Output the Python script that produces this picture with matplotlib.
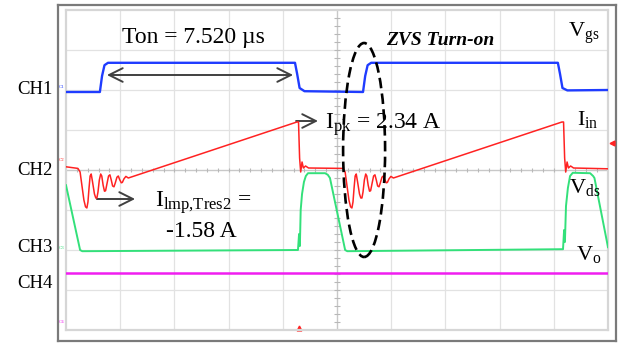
import numpy as np
import matplotlib
matplotlib.use("Agg")
import matplotlib.pyplot as plt
from matplotlib.patches import Ellipse

plt.rcParams['font.family'] = ['Liberation Serif', 'DejaVu Serif']
plt.rcParams['mathtext.fontset'] = 'custom'
plt.rcParams['mathtext.rm'] = 'Liberation Serif'
plt.rcParams['mathtext.it'] = 'Liberation Serif:italic'
plt.rcParams['mathtext.bf'] = 'Liberation Serif:bold'

# scope screen: 10 div x 2 us, 8 div vertical (levels in div, centre = 0)
T_DIV = 2.0
N_XDIV, N_YDIV = 10, 8

# CH1 - gate voltage Vgs
ch1_t = [0, 1.25, 1.33, 1.42, 1.55, 8.45, 8.53, 8.62, 8.80, 10.96, 11.04,
         11.13, 11.26, 18.15, 18.23, 18.32, 18.50, 20]
ch1_v = [1.95, 1.95, 2.35, 2.62, 2.68, 2.68, 2.40, 2.05, 1.97, 1.95, 2.35,
         2.62, 2.68, 2.68, 2.40, 2.05, 1.99, 2.0]

# CH2 - input current Iin
ch2_t = [0, 0.44, 0.52, 0.58, 0.66, 0.72, 0.77, 0.81, 0.85, 0.89, 0.93, 0.98,
         1.05, 1.10, 1.14, 1.18, 1.23, 1.28, 1.32, 1.37, 1.42, 1.46, 1.51,
         1.57, 1.62, 1.67, 1.72, 1.77, 1.82, 1.88, 1.93, 1.98, 2.04, 2.08,
         2.14, 2.21, 2.30,
         8.52, 8.58, 8.62, 8.66, 8.71, 8.76, 8.84, 8.95,
         10.22, 10.30, 10.36, 10.44, 10.50, 10.55, 10.59, 10.63, 10.67, 10.71,
         10.76, 10.83, 10.88, 10.92, 10.96, 11.01, 11.06, 11.10, 11.15, 11.20,
         11.24, 11.29, 11.35, 11.40, 11.45, 11.50, 11.55, 11.60, 11.66, 11.71,
         11.76, 11.82, 11.86, 11.92, 11.99, 12.08,
         18.30, 18.36, 18.40, 18.44, 18.49, 18.54, 18.62, 18.73, 20]
ch2_v = [0.08, 0.04, -0.05, -0.35, -0.75, -0.92, -0.95, -0.80, -0.45, -0.15,
         -0.10, -0.30, -0.60, -0.70, -0.70, -0.55, -0.25, -0.10, -0.15, -0.38,
         -0.53, -0.52, -0.35, -0.15, -0.12, -0.25, -0.40, -0.42, -0.32, -0.18,
         -0.15, -0.24, -0.32, -0.31, -0.22, -0.16, -0.20,
         1.20, 1.20, 0.30, -0.05, 0.20, 0.05, 0.10, 0.05,
         0.04, -0.05, -0.35, -0.75, -0.92, -0.95, -0.80, -0.45, -0.15, -0.10,
         -0.30, -0.60, -0.70, -0.70, -0.55, -0.25, -0.10, -0.15, -0.38, -0.53,
         -0.52, -0.35, -0.15, -0.12, -0.25, -0.40, -0.42, -0.32, -0.18, -0.15,
         -0.24, -0.32, -0.31, -0.22, -0.16, -0.20,
         1.20, 1.20, 0.30, -0.05, 0.20, 0.05, 0.10, 0.05, 0.03]

# CH3 - drain-source voltage Vds
ch3_t = [0, 0.52, 0.60, 8.56, 8.60, 8.63, 8.66, 8.71, 8.78, 8.85, 8.93, 9.56,
         9.66, 9.74, 10.30, 10.38, 18.34, 18.38, 18.41, 18.45, 18.52, 18.60,
         18.70, 19.34, 19.45, 19.50, 20]
ch3_v = [-0.38, -2.00, -2.03, -2.00, -1.60, -1.90, -1.00, -0.60, -0.30, -0.15,
         -0.08, -0.08, -0.12, -0.20, -2.00, -2.03, -1.98, -1.50, -1.80, -0.90,
         -0.45, -0.15, -0.07, -0.08, -0.15, -0.20, -1.93]

# CH4 - output voltage Vo
ch4_t = [0, 20]
ch4_v = [-2.58, -2.58]

fig = plt.figure(figsize=(6.19, 3.45), dpi=100)
W, H = 619, 345

# outer bezel
bz = fig.add_axes([58 / W, (H - 341) / H, 558 / W, 336 / H])
bz.set_xticks([])
bz.set_yticks([])
for s in bz.spines.values():
    s.set_color('#7a7a7a')
    s.set_linewidth(1.6)

ax = fig.add_axes([66 / W, (H - 330) / H, 542 / W, 320 / H])
ax.set_xlim(0, N_XDIV * T_DIV)
ax.set_ylim(-N_YDIV / 2, N_YDIV / 2)
ax.set_xticks([])
ax.set_yticks([])
for s in ax.spines.values():
    s.set_color('#d6d6d6')
    s.set_linewidth(1.6)

# graticule
for i in range(1, N_XDIV):
    ax.axvline(i * T_DIV, color='#e2e2e2', lw=0.9, zorder=1)
for j in range(1, N_YDIV):
    ax.axhline(j - N_YDIV / 2, color='#e2e2e2', lw=0.9, zorder=1)
ax.axvline(N_XDIV / 2 * T_DIV, color='#c8c8c8', lw=0.9, zorder=1)
ax.axhline(0, color='#c8c8c8', lw=0.9, zorder=1)
tx = np.arange(0.2, N_XDIV, 0.2) * T_DIV
ax.vlines(tx, -0.05, 0.05, color='#b8b8b8', lw=0.8, zorder=1)
ty = np.arange(-N_YDIV / 2 + 0.2, N_YDIV / 2, 0.2)
ax.hlines(ty, 10 - 0.1, 10 + 0.1, color='#b8b8b8', lw=0.8, zorder=1)

# traces
ax.plot(ch4_t, ch4_v, color='#f01ef0', lw=1.8, zorder=3)
ax.plot(ch3_t, ch3_v, color='#33e07a', lw=1.4, zorder=3)
ax.plot(ch2_t, ch2_v, color='#ff2222', lw=1.1, zorder=4)
ax.plot(ch1_t, ch1_v, color='#1f3cff', lw=1.7, zorder=4)

# channel ground markers and trigger markers
for name, lv, c in [('C1', 2.08, '#1f3cff'), ('C2', 0.25, '#ff2222'),
                    ('C3', -1.95, '#33e07a'), ('C4', -3.8, '#f01ef0')]:
    ax.text(-0.15, lv, name, fontsize=3.5, color=c, ha='center',
            va='center', clip_on=False)
ax.plot([8.6], [-3.94], marker='^', color='#ff2222', ms=3.5, clip_on=False)
ax.plot([20.15], [0.68], marker='<', color='#ff2222', ms=3.5, clip_on=False)

# channel names
for name, lv in [('CH1', 1.9), ('CH2', -0.12), ('CH3', -2.05), ('CH4', -2.95)]:
    ax.text(-0.48, lv, name, fontsize=13.5, ha='right', va='baseline',
            clip_on=False)

# annotations
arr = dict(arrowstyle='<->, head_length=0.7, head_width=0.35',
           color='#404040', lw=1.4, mutation_scale=14, shrinkA=0, shrinkB=0)
ax.annotate('', xy=(1.51, 2.375), xytext=(8.38, 2.375), arrowprops=arr)
one = dict(arrowstyle='->, head_length=0.7, head_width=0.35',
           color='#404040', lw=1.4, mutation_scale=14, shrinkA=0, shrinkB=0)
ax.annotate('', xy=(9.30, 1.225), xytext=(8.49, 1.225), arrowprops=one)
ax.annotate('', xy=(2.55, -0.725), xytext=(1.14, -0.725), arrowprops=one)

ax.text(4.72, 3.175, 'Ton = 7.520 µs', fontsize=17, ha='center',
        va='baseline')
ax.text(13.8, 3.125, 'ZVS Turn-on', fontsize=14, ha='center',
        va='baseline', fontweight='bold', fontstyle='italic')
ax.text(9.56, 1.025, r'I$_{\mathrm{pk}}$ = 2.34 A', fontsize=17,
        va='baseline')
ax.text(3.28, -0.925, r'I$_{\mathrm{lmp{,}Tres2}}$ =', fontsize=17,
        va='baseline')
ax.text(3.69, -1.675, '-1.58 A', fontsize=17, va='baseline')

ax.text(18.52, 3.325, r'V$_{\mathrm{gs}}$', fontsize=16, va='baseline')
ax.text(18.86, 1.125, r'I$_{\mathrm{in}}$', fontsize=16, va='baseline')
ax.text(18.56, -0.575, r'V$_{\mathrm{ds}}$', fontsize=16, va='baseline')
ax.text(18.82, -2.25, r'V$_{\mathrm{o}}$', fontsize=16, va='baseline')

ax.add_patch(Ellipse((11.0, 0.5), 1.55, 5.35, fill=False, color='black',
                     lw=1.9, linestyle=(0, (4, 2)), zorder=6))

fig.savefig('out.png', dpi=100)
